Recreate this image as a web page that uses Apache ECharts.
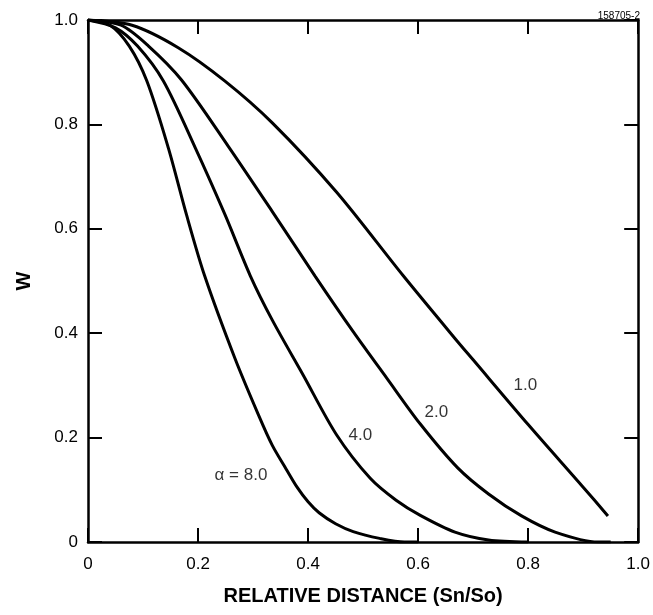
<!DOCTYPE html>
<html>
<head>
<meta charset="utf-8">
<script src="https://cdn.jsdelivr.net/npm/echarts@6/dist/echarts.min.js"></script>
<style>html,body{margin:0;padding:0;background:#fff}#c{width:653px;height:615px}</style>
</head>
<body>
<div id="c"></div>
<script>
// Curve data: relative distance (Sn/So) vs W
var alpha1X = [0, 0.08, 0.164, 0.249, 0.335, 0.452, 0.573, 0.667, 0.7, 0.8, 0.9, 0.945];
var alpha1W = [1.0, 0.99, 0.947, 0.883, 0.803, 0.67, 0.51, 0.39, 0.349, 0.225, 0.105, 0.05];

var alpha2X = [0, 0.06, 0.11, 0.17, 0.255, 0.335, 0.413, 0.482, 0.543, 0.604, 0.672, 0.728, 0.788, 0.849, 0.927, 0.95];
var alpha2W = [1.0, 0.99, 0.95, 0.885, 0.758, 0.633, 0.509, 0.403, 0.314, 0.226, 0.142, 0.092, 0.05, 0.019, 0.0, 0.0];

var alpha4X = [0, 0.05, 0.09, 0.137, 0.195, 0.249, 0.295, 0.335, 0.391, 0.452, 0.513, 0.56, 0.604, 0.667, 0.728, 0.8];
var alpha4W = [1.0, 0.985, 0.95, 0.883, 0.755, 0.627, 0.51, 0.425, 0.32, 0.205, 0.122, 0.08, 0.051, 0.019, 0.004, 0.0];

var alpha8X = [0, 0.04, 0.075, 0.107, 0.146, 0.179, 0.212, 0.267, 0.31, 0.335, 0.36, 0.38, 0.4, 0.42, 0.45, 0.482, 0.53, 0.575, 0.6];
var alpha8W = [1.0, 0.99, 0.95, 0.883, 0.755, 0.627, 0.51, 0.352, 0.243, 0.185, 0.14, 0.105, 0.077, 0.056, 0.035, 0.02, 0.007, 0.0, 0.0];

// Curve labels (text and anchor in data coordinates)
var curveLabelText = ['1.0', '2.0', '4.0', '\u03b1 = 8.0'];
var curveLabelX = [0.795, 0.633, 0.495, 0.278];
var curveLabelW = [0.30, 0.249, 0.205, 0.128];

var xTickLabels = ['0', '0.2', '0.4', '0.6', '0.8', '1.0'];
var yTickLabels = ['0', '0.2', '0.4', '0.6', '0.8', '1.0'];

function pairs(xs, ys) { return xs.map(function (x, i) { return [x, ys[i]]; }); }

var FONT = 'Liberation Sans, Arial, Helvetica, sans-serif';
var lineStyleAxis = { color: '#000', width: 2.5 };
var tickStyle = { show: true, inside: true, length: 14, lineStyle: { color: '#000', width: 2 } };

function curve(name, xs, ys) {
  return {
    name: name, type: 'line', xAxisIndex: 0, yAxisIndex: 0,
    data: pairs(xs, ys), showSymbol: false, smooth: 0.3,
    lineStyle: { color: '#000', width: 3 }, itemStyle: { color: '#000' },
    silent: true, animation: false, z: 3
  };
}

var chart = echarts.init(document.getElementById('c'), null, { renderer: 'canvas' });
chart.setOption({
  backgroundColor: '#fff',
  animation: false,
  title: {
    text: '158705-2', right: 8, top: 6,
    textStyle: { fontFamily: FONT, fontSize: 10, fontWeight: 'normal', color: '#000' }
  },
  grid: { left: 88, right: 13, top: 20, bottom: 73, containLabel: false },
  xAxis: [
    {
      type: 'value', min: 0, max: 1, interval: 0.2, position: 'bottom',
      name: 'RELATIVE DISTANCE (Sn/So)', nameLocation: 'middle', nameGap: 44,
      nameTextStyle: { fontFamily: FONT, fontSize: 20, fontWeight: 'bold', color: '#000' },
      axisLine: { show: true, onZero: false, lineStyle: lineStyleAxis },
      axisTick: tickStyle, splitLine: { show: false },
      axisLabel: {
        margin: 14, fontFamily: FONT, fontSize: 17, color: '#000',
        formatter: function (v) { return xTickLabels[Math.round(v * 5)]; }
      }
    },
    {
      type: 'value', min: 0, max: 1, interval: 0.2, position: 'top',
      axisLine: { show: true, onZero: false, lineStyle: lineStyleAxis },
      axisTick: tickStyle, axisLabel: { show: false }, splitLine: { show: false }
    }
  ],
  yAxis: [
    {
      type: 'value', min: 0, max: 1, interval: 0.2, position: 'left',
      name: 'W', nameLocation: 'middle', nameGap: 54, nameRotate: 90,
      nameTextStyle: { fontFamily: FONT, fontSize: 20, fontWeight: 'bold', color: '#000' },
      axisLine: { show: true, onZero: false, lineStyle: lineStyleAxis },
      axisTick: tickStyle, splitLine: { show: false },
      axisLabel: {
        margin: 10, fontFamily: FONT, fontSize: 17, color: '#000',
        formatter: function (v) { return yTickLabels[Math.round(v * 5)]; }
      }
    },
    {
      type: 'value', min: 0, max: 1, interval: 0.2, position: 'right',
      axisLine: { show: true, onZero: false, lineStyle: lineStyleAxis },
      axisTick: tickStyle, axisLabel: { show: false }, splitLine: { show: false }
    }
  ],
  series: [
    curve('1.0', alpha1X, alpha1W),
    curve('2.0', alpha2X, alpha2W),
    curve('4.0', alpha4X, alpha4W),
    curve('8.0', alpha8X, alpha8W),
    {
      type: 'scatter', xAxisIndex: 0, yAxisIndex: 0, symbolSize: 0, silent: true,
      data: curveLabelText.map(function (t, i) { return { value: [curveLabelX[i], curveLabelW[i]], name: t }; }),
      label: {
        show: true, position: 'inside', formatter: function (p) { return p.name; },
        fontFamily: FONT, fontSize: 17, color: '#000'
      },
      z: 4
    }
  ]
});
</script>
</body>
</html>
